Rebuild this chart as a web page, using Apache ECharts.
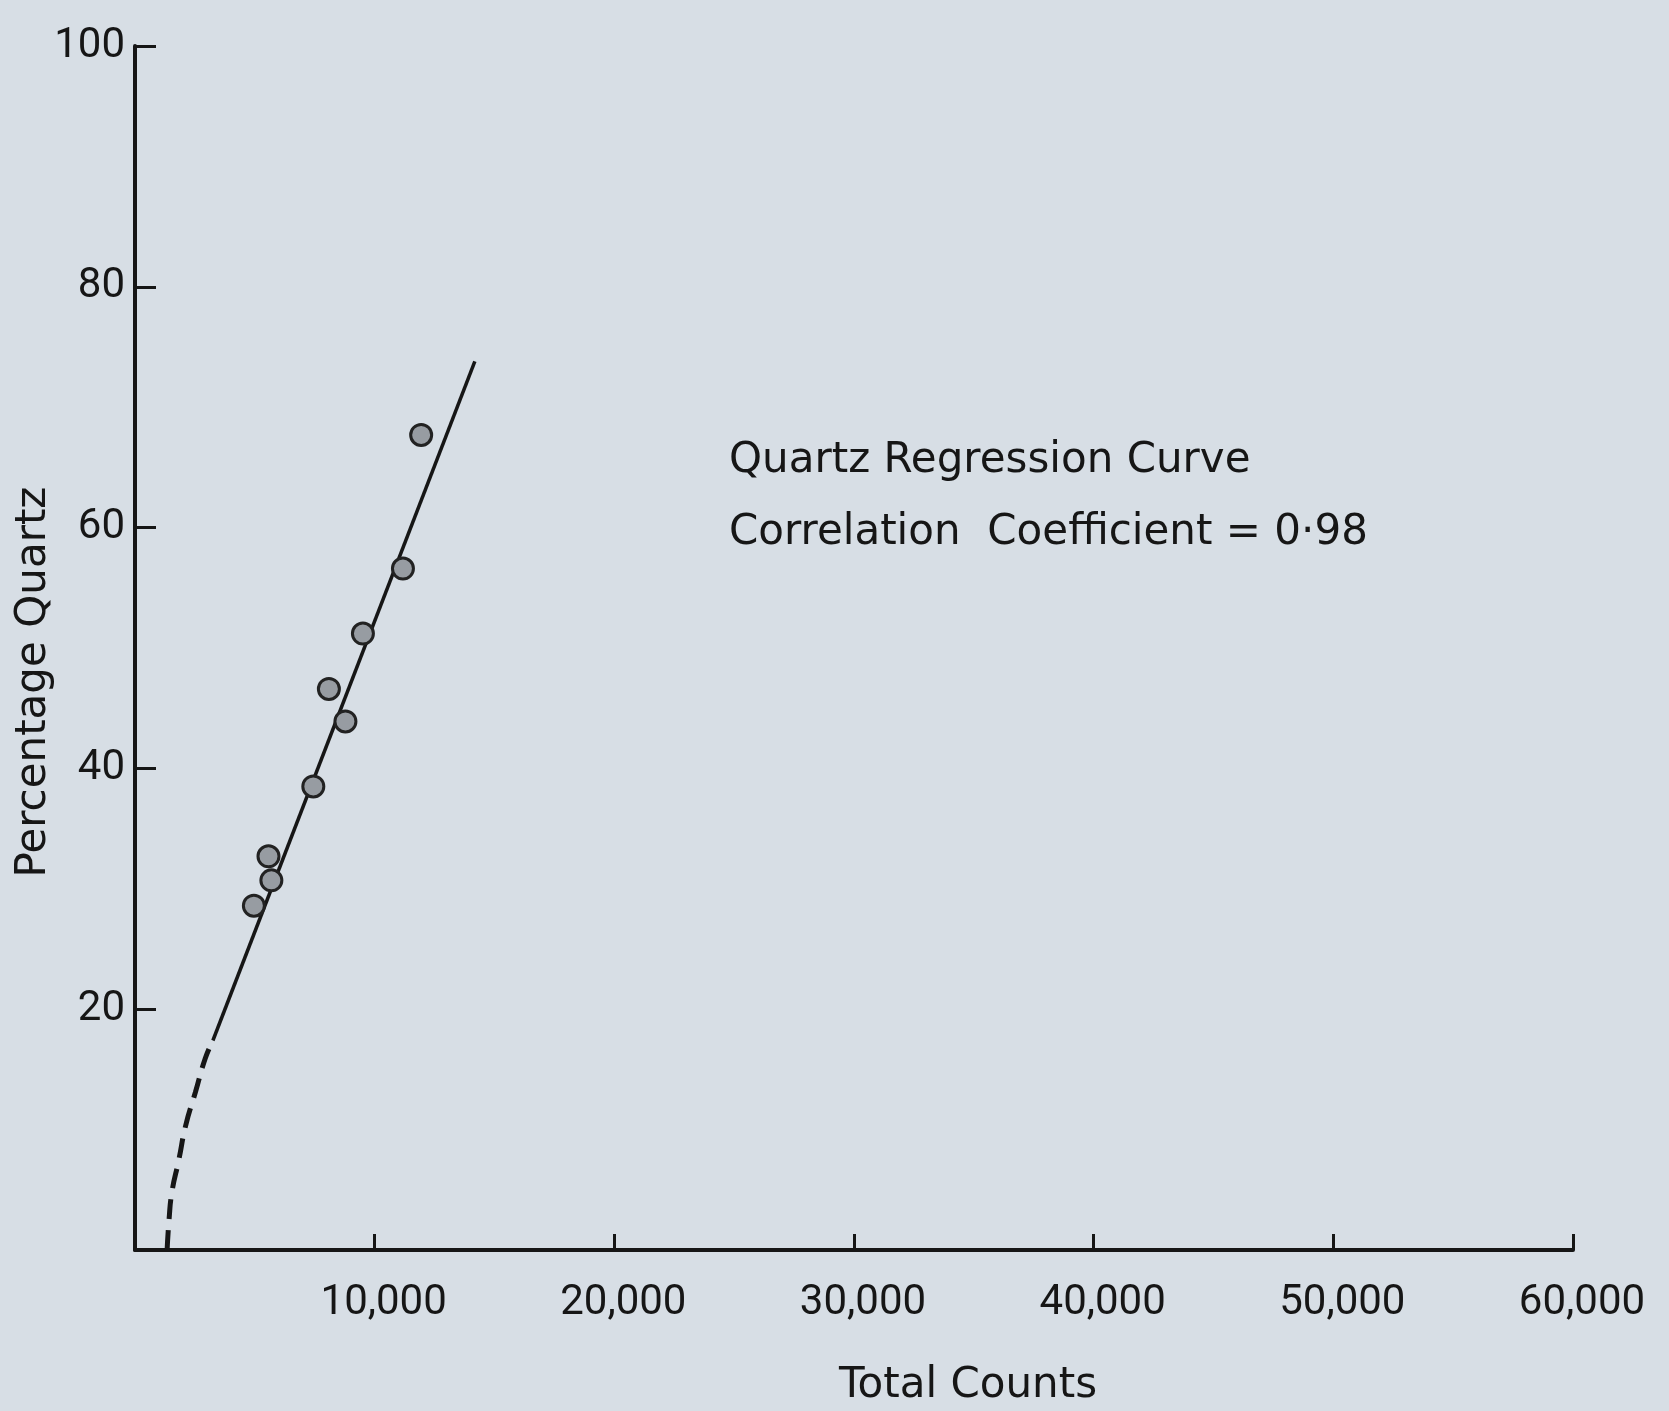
<!DOCTYPE html>
<html>
<head>
<meta charset="utf-8">
<script src="https://cdn.jsdelivr.net/npm/echarts@6/dist/echarts.min.js"></script>
<style>
html,body{margin:0;padding:0;background:#d7dee5;}
#chart{width:1669px;height:1411px;}
</style>
</head>
<body>
<div id="chart"></div>
<script>
// Observed samples
const totalCounts = [4960, 5570, 5690, 7440, 8090, 8780, 9510, 11180, 11940];
const percentQuartz = [28.6, 32.7, 30.7, 38.5, 46.6, 43.9, 51.2, 56.6, 67.7];
// Fitted regression line (solid part)
const fitCounts = [3250, 14180];
const fitQuartz = [17.4, 73.8];
// Extrapolated (dashed) part of the curve
const extCounts = [1340, 1420, 1540, 1830, 2110, 2520, 2930, 3250];
const extQuartz = [0, 2.5, 4.8, 7.5, 10.3, 13.1, 15.9, 17.4];
// Axis ticks
const xTicks = [0, 10000, 20000, 30000, 40000, 50000, 60000];
const yTicks = [0, 20, 40, 60, 80, 100];

const zip = (a, b) => a.map((v, i) => [v, b[i]]);
const ink = '#161616';
const txtFont = '"DejaVu Sans", sans-serif';
const numFont = 'Roboto, "DejaVu Sans", sans-serif';

const chart = echarts.init(document.getElementById('chart'), null, {renderer: 'canvas'});
chart.setOption({
  backgroundColor: '#d7dee5',
  animation: false,
  grid: {left: 135, right: 96, top: 46, bottom: 161},
  xAxis: {
    type: 'value', min: xTicks[0], max: xTicks[xTicks.length - 1], interval: xTicks[1] - xTicks[0],
    axisLine: {show: true, lineStyle: {color: ink, width: 4}},
    axisTick: {show: true, inside: true, length: 16, lineStyle: {color: ink, width: 3}},
    splitLine: {show: false},
    axisLabel: {
      color: ink, fontFamily: numFont, fontSize: 42, margin: 32,
      padding: [0, 0, 0, 18],
      formatter: v => v === 0 ? '' : v.toLocaleString('en-US')
    }
  },
  yAxis: {
    type: 'value', min: yTicks[0], max: yTicks[yTicks.length - 1], interval: yTicks[1] - yTicks[0],
    axisLine: {show: true, lineStyle: {color: ink, width: 4}},
    axisTick: {show: true, inside: true, length: 21, lineStyle: {color: ink, width: 3}},
    splitLine: {show: false},
    axisLabel: {
      color: ink, fontFamily: numFont, fontSize: 42, margin: 10,
      padding: [0, 0, 22, 0],
      formatter: v => v === 0 ? '' : String(v)
    }
  },
  series: [
    {
      type: 'line', data: zip(extCounts, extQuartz), smooth: true, symbol: 'none',
      lineStyle: {color: ink, width: 5, type: [20, 11]}, z: 2
    },
    {
      type: 'line', data: zip(fitCounts, fitQuartz), symbol: 'none',
      lineStyle: {color: ink, width: 3.5}, z: 2
    },
    {
      type: 'scatter', data: zip(totalCounts, percentQuartz), symbol: 'circle', symbolSize: 21,
      itemStyle: {color: '#979ca2', borderColor: '#222222', borderWidth: 3, opacity: 1}, z: 3
    }
  ],
  graphic: [
    {type: 'text', left: 729, top: 440, style: {text: 'Quartz Regression Curve', fill: ink, font: '42px ' + txtFont}},
    {type: 'text', left: 729, top: 512, style: {text: 'Correlation  Coefficient = 0·98', fill: ink, font: '42px ' + txtFont}},
    {type: 'text', x: 968, y: 1386, style: {text: 'Total Counts', fill: ink, font: '42px ' + txtFont, align: 'center', verticalAlign: 'middle'}},
    {type: 'text', x: 34, y: 682, rotation: Math.PI / 2, style: {text: 'Percentage Quartz', fill: ink, font: '42px ' + txtFont, align: 'center', verticalAlign: 'middle'}}
  ]
});
</script>
</body>
</html>
